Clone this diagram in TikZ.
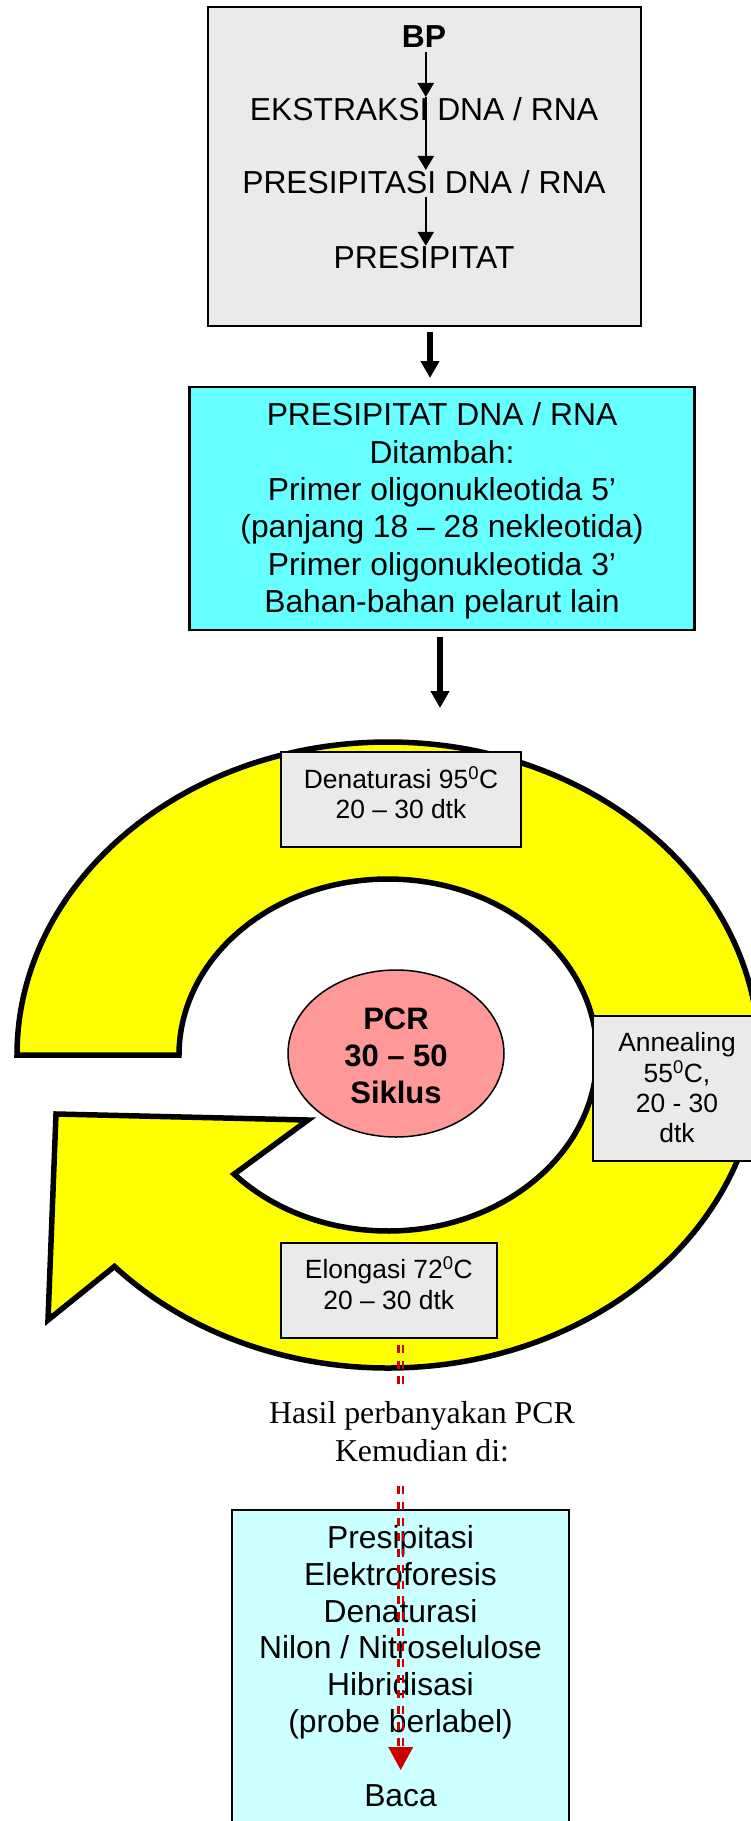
\documentclass[tikz,border=0pt]{standalone}
\usepackage{fontspec}
\setmainfont{Liberation Sans}
\newfontfamily\timesrm{Liberation Serif}
\usetikzlibrary{arrows.meta,shapes.geometric,calc}
\definecolor{boxgray}{HTML}{EAEAEA}
\definecolor{mixcyan}{HTML}{66FFFF}
\definecolor{postcyan}{HTML}{CCFFFF}
\definecolor{ringyellow}{HTML}{FFFF00}
\definecolor{pcrpink}{HTML}{FF9999}
\definecolor{pcrred}{HTML}{CC0000}
\begin{document}
\begin{tikzpicture}[x=1pt,y=1pt,
  box/.style={draw, line width=2pt, inner sep=0pt, outer sep=0pt},
  rowtext/.style={inner sep=0pt, outer sep=0pt, font=\fontsize{31.8}{37.3}\selectfont},
  lines/.style={align=center, inner sep=0pt, outer sep=0pt,
    execute at begin node=\strut, execute at end node=\strut},
  bigfont/.style={font=\fontsize{31.8}{37.3}\selectfont},
  smallfont/.style={font=\fontsize{26.4}{30.7}\selectfont},
  thinarrow/.style={line width=2.4pt, -{Triangle[width=16pt,length=14pt]}},
  bigarrow/.style={line width=6pt, -{Triangle[width=18pt,length=17pt]}},
  ring/.style={draw, line width=5.5pt, fill=ringyellow, line join=miter},
  reddash/.style={draw=pcrred, line width=2.4pt, dash pattern=on 8pt off 7.7pt, dash phase=8.7pt},
]
\useasboundingbox (0,0) rectangle (751,-1821);
\fill[white] (0,0) rectangle (751,-1821);

% sample preparation
\node[box, fill=boxgray, minimum width=433pt, minimum height=319pt] (prep) at (424.5,-166.5) {};
\node[rowtext, anchor=base, font=\fontsize{31.8}{37.3}\selectfont\bfseries] (bp) at (424,-47) {BP};
\node[rowtext, anchor=base] (eks) at (424,-120) {EKSTRAKSI DNA / RNA};
\node[rowtext, anchor=base] (pres) at (424,-193) {PRESIPITASI DNA / RNA};
\node[rowtext, anchor=base] (prest) at (424,-268) {PRESIPITAT};
\draw[thinarrow, shorten <=5pt] ($(bp.south)+(1.8,0)$) -- ($(eks.north)+(1.8,0)$);
\draw[thinarrow] ($(eks.north)+(1.8,0)$) -- ($(pres.north)+(1.8,0)$);
\draw[thinarrow, shorten <=4pt] ($(pres.south)+(1.8,0)$) -- ($(prest.north)+(1.8,0)$);

% reaction mix
\node[box, line width=2.5pt, fill=mixcyan, minimum width=505pt, minimum height=243pt] (mix) at (442,-508.5) {};
\node[lines, bigfont] (mixtxt) at (442,-513.3)
  {PRESIPITAT DNA / RNA\\Ditambah:\\Primer oligonukleotida 5’\\(panjang 18 – 28 nekleotida)\\Primer oligonukleotida 3’\\Bahan-bahan pelarut lain};

% cycle steps
\node[box, fill=boxgray, minimum width=240pt, minimum height=95pt] (den) at (401,-799.5) {};
\draw[bigarrow] ($(prep.south)+(5.5,-6)$) -- ($(mix.north)+(-12,9)$);
\draw[bigarrow] ($(mix.south)+(-2,-7)$) -- ($(den.north)+(39,44)$);

\coordinate (cyc) at (388,-1055);
\draw[ring] ($(cyc)+(180:371 and 313)$)
  arc[start angle=180, end angle=-137.5, x radius=371, y radius=313]
  -- (48,-1320) -- (56,-1114) -- (308,-1120)
  -- ($(cyc)+(-137.4:209 and 176)$)
  arc[start angle=-137.4, end angle=180, x radius=209, y radius=176]
  -- cycle;

\node[ellipse, draw, line width=1.5pt, fill=pcrpink, minimum width=216pt, minimum height=167pt, inner sep=0pt] (pcr) at (396,-1053.5) {};
\node[lines, font=\fontsize{31}{37}\selectfont\bfseries] (pcrtxt) at (396,-1061.3) {PCR\\30 – 50\\Siklus};

\node[box, fill=boxgray, minimum width=240pt, minimum height=95pt] (den) at (401,-799.5) {};
\node[lines, smallfont] (dentxt) at (401,-797.2) {Denaturasi 95\textsuperscript{0}C\\20 – 30 dtk};
\node[box, fill=boxgray, minimum width=168pt, minimum height=145pt] (ann) at (677,-1088.5) {};
\node[lines, font=\fontsize{26.4}{30.4}\selectfont] (anntxt) at (677,-1092.3) {Annealing\\55\textsuperscript{0}C,\\20 - 30\\dtk};
\node[box, fill=boxgray, minimum width=216pt, minimum height=95pt] (elo) at (389,-1290.5) {};
\node[lines, smallfont] (elotxt) at (388.8,-1287.5) {Elongasi 72\textsuperscript{0}C\\20 – 30 dtk};

% follow-up steps
\node[box, fill=postcyan, minimum width=337pt, minimum height=340pt, anchor=north] (post) at (400.5,-1510) {};
\node[lines, font=\fontsize{31.8}{36.8}\selectfont] (posttxt) at (400.5,-1671.3)
  {Presipitasi\\Elektroforesis\\Denaturasi\\Nilon / Nitroselulose\\Hibridisasi\\(probe berlabel)\\~\\Baca};

\coordinate (readtip) at (400.7,-1770);
\draw[reddash, shorten >=23pt] ($(elo.south -| readtip)+(-2.4,0)$) -- ($(readtip)+(-2.4,0)$);
\draw[reddash, shorten >=23pt] ($(elo.south -| readtip)+(2.4,0)$) -- ($(readtip)+(2.4,0)$);
\fill[pcrred] (readtip) -- ++(-12.5,23) -- ++(25,0) -- cycle;

\node[lines, fill=white, inner xsep=3pt, inner ysep=13pt,
  font=\timesrm\fontsize{31.8}{38}\selectfont] (hasil) at (422,-1437.4)
  {Hasil perbanyakan PCR\\Kemudian di:};
\end{tikzpicture}
\end{document}
